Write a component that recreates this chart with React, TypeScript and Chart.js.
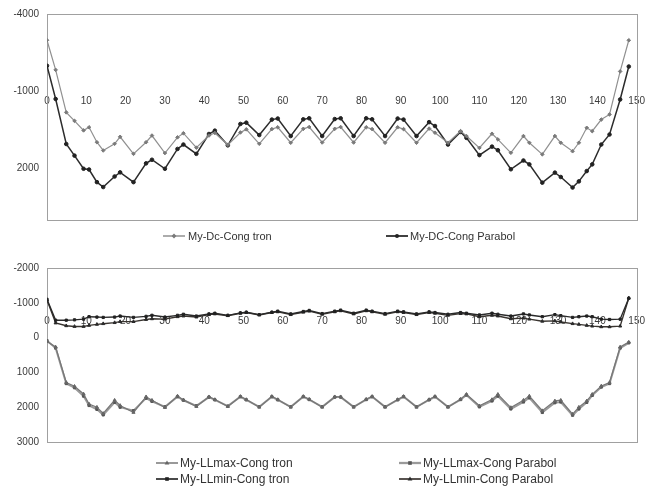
import React, { useEffect, useRef } from "react";
import { Chart, registerables } from "chart.js";

Chart.register(...registerables);

// Station along the arch (m)
const stations = [
  0, 2.2, 4.9, 7, 9.3, 10.7, 12.7, 14.3, 17.2, 18.6,
  22, 25.2, 26.7, 30, 33.2, 34.7, 38, 41.2, 42.7, 46,
  49.2, 50.7, 54, 57.2, 58.7, 62, 65.2, 66.7, 70, 73.2,
  74.7, 78, 81.2, 82.7, 86, 89.2, 90.7, 94, 97.2, 98.7,
  102, 105.2, 106.7, 110, 113.2, 114.7, 118, 121.2, 122.7, 126,
  129.2, 130.7, 133.7, 135.3, 137.3, 138.7, 141, 143.1, 145.8, 148,
];

// Top chart series
const dcCongTron = [
  -2980, -1830, -180, 150, 520, 400, 980, 1300, 1040, 770,
  1430, 980, 720, 1400, 790, 630, 1190, 720, 620, 1080,
  600, 480, 1040, 470, 400, 1000, 460, 390, 990, 460,
  390, 990, 400, 470, 1000, 400, 470, 1000, 450, 610,
  1000, 550, 740, 1200, 650, 870, 1390, 740, 1000, 1450,
  740, 1000, 1330, 1000, 420, 550, 100, -100, -1770, -2980,
];
const dcCongParabol = [
  -1990, -700, 1050, 1500, 2010, 2040, 2530, 2720, 2310, 2150,
  2530, 1800, 1660, 2010, 1240, 1070, 1430, 660, 530, 1100,
  270, 220, 700, 100, 60, 740, 90, 50, 740, 80,
  50, 740, 50, 90, 740, 60, 100, 740, 200, 350,
  1070, 580, 810, 1480, 1150, 1290, 2030, 1690, 1840, 2550,
  2160, 2330, 2740, 2500, 2100, 1840, 1070, 680, -680, -1960,
];

// Bottom chart series
const llmaxCongTron = [
  110, 270, 1290, 1400, 1620, 1910, 2000, 2180, 1800, 1950,
  2150, 1700, 1800, 2010, 1680, 1790, 1980, 1700, 1780, 1980,
  1690, 1780, 2000, 1690, 1780, 2000, 1690, 1770, 2000, 1700,
  1700, 2000, 1770, 1690, 2000, 1780, 1690, 2000, 1780, 1690,
  2000, 1770, 1630, 1960, 1780, 1630, 2010, 1800, 1680, 2100,
  1820, 1800, 2200, 2000, 1820, 1630, 1390, 1290, 270, 130,
];
const llmaxCongParabol = [
  90, 300, 1320, 1440, 1680, 1950, 2060, 2220, 1860, 2000,
  2100, 1740, 1830, 1990, 1700, 1800, 1960, 1710, 1790, 1970,
  1700, 1790, 1990, 1700, 1790, 1990, 1700, 1780, 1990, 1710,
  1710, 1990, 1780, 1700, 1990, 1790, 1700, 1990, 1790, 1700,
  1990, 1780, 1650, 1990, 1820, 1680, 2050, 1850, 1730, 2150,
  1870, 1850, 2230, 2050, 1860, 1660, 1420, 1320, 300, 150,
];
const llminCongTron = [
  -1100, -500, -500, -510, -530, -600, -590, -580, -590, -620,
  -580, -610, -640, -590, -640, -670, -620, -680, -700, -640,
  -710, -730, -660, -730, -760, -680, -750, -780, -690, -760,
  -790, -700, -790, -760, -690, -760, -740, -680, -740, -720,
  -670, -720, -700, -650, -700, -670, -620, -680, -650, -600,
  -660, -630, -580, -600, -620, -600, -530, -520, -530, -1130,
];
const llminCongParabol = [
  -1080, -420, -340, -320, -320, -350, -380, -400, -430, -460,
  -460, -520, -540, -530, -600, -620, -590, -660, -680, -630,
  -700, -720, -650, -720, -740, -660, -730, -760, -670, -740,
  -770, -680, -770, -740, -670, -740, -720, -660, -720, -700,
  -640, -690, -680, -600, -640, -620, -540, -560, -530, -470,
  -480, -450, -400, -380, -350, -330, -310, -310, -330, -1140,
];

const topYTicks = [-4000, -1000, 2000];
const bottomYTicks = [-2000, -1000, 0, 1000, 2000, 3000];

const FONT = '"Liberation Sans", Arial, sans-serif';
Chart.defaults.font.family = FONT;

const framePlugin = {
  id: "frame",
  beforeDatasetsDraw(chart: any) {
    const { ctx, chartArea: a } = chart;
    ctx.save();
    ctx.strokeStyle = "#a0a0a0";
    ctx.lineWidth = 1;
    ctx.strokeRect(Math.round(a.left) + 0.5, Math.round(a.top) + 0.5, Math.round(a.width), Math.round(a.height));
    ctx.restore();
  },
};

type SeriesStyle = {
  label: string;
  values: number[];
  color: string;
  width: number;
  pointStyle: string;
  pointColor: string;
  radius: number;
};

function buildDataset(s: SeriesStyle) {
  return {
    label: s.label,
    data: stations.map((x, i) => ({ x, y: s.values[i] })),
    showLine: true,
    borderColor: s.color,
    backgroundColor: s.pointColor,
    borderWidth: s.width,
    pointStyle: s.pointStyle,
    pointRadius: s.radius,
    pointBorderWidth: 1,
    pointBorderColor: s.pointColor,
    pointBackgroundColor: s.pointColor,
    tension: 0,
  };
}

function makeConfig(series: SeriesStyle[], yMin: number, yMax: number, yTicks: number[], xAxisAt: number, padding: any) {
  return {
    type: "scatter",
    data: { datasets: series.map(buildDataset) },
    options: {
      animation: false,
      responsive: false,
      maintainAspectRatio: false,
      layout: { padding },
      plugins: { legend: { display: false }, tooltip: { enabled: false } },
      scales: {
        x: {
          type: "linear",
          min: 0,
          max: 150,
          position: { y: xAxisAt },
          grid: { display: false, drawTicks: false },
          border: { display: false },
          ticks: {
            stepSize: 10,
            mirror: true,
            padding: 0,
            maxRotation: 0,
            autoSkip: false,
            color: "#3a3a3a",
            font: { size: 10, family: FONT },
          },
        },
        y: {
          type: "linear",
          reverse: true,
          min: yMin,
          max: yMax,
          grid: { display: false, drawTicks: false },
          border: { display: false },
          afterBuildTicks: (scale: any) => {
            scale.ticks = yTicks.map((v) => ({ value: v }));
          },
          afterFit: (scale: any) => {
            scale.width = 47;
          },
          ticks: {
            padding: 8,
            color: "#3a3a3a",
            font: { size: 10, family: FONT },
            callback: (v: any) => String(v),
          },
        },
      },
    },
    plugins: [framePlugin],
  };
}

const topSeries: SeriesStyle[] = [
  { label: "My-Dc-Cong tron", values: dcCongTron, color: "#909090", width: 1.2, pointStyle: "rectRot", pointColor: "#7a7a7a", radius: 1.8 },
  { label: "My-DC-Cong Parabol", values: dcCongParabol, color: "#2c2c2c", width: 1.5, pointStyle: "circle", pointColor: "#222222", radius: 1.8 },
];

const bottomSeries: SeriesStyle[] = [
  { label: "My-LLmax-Cong tron", values: llmaxCongTron, color: "#777777", width: 1.2, pointStyle: "triangle", pointColor: "#666666", radius: 1.8 },
  { label: "My-LLmax-Cong Parabol", values: llmaxCongParabol, color: "#9a9a9a", width: 2, pointStyle: "rect", pointColor: "#555555", radius: 1.6 },
  { label: "My-LLmin-Cong tron", values: llminCongTron, color: "#2a2a2a", width: 1.4, pointStyle: "rect", pointColor: "#222222", radius: 1.6 },
  { label: "My-LLmin-Cong Parabol", values: llminCongParabol, color: "#3a3530", width: 1.4, pointStyle: "triangle", pointColor: "#2a2a2a", radius: 1.8 },
];

function ChartCanvas({ config, width, height }: { config: any; width: number; height: number }) {
  const ref = useRef<HTMLCanvasElement | null>(null);
  useEffect(() => {
    if (!ref.current) return;
    const chart = new Chart(ref.current, config);
    return () => chart.destroy();
  }, []);
  return <canvas ref={ref} width={width} height={height} style={{ width, height, display: "block" }} />;
}

function Marker({ shape, color }: { shape: string; color: string }) {
  if (shape === "circle") return <circle cx={11} cy={5} r={2} fill={color} />;
  if (shape === "rectRot") return <polygon points="11,2.6 13.4,5 11,7.4 8.6,5" fill={color} />;
  if (shape === "triangle") return <polygon points="11,2.4 13.4,6.6 8.6,6.6" fill={color} />;
  return <rect x={9.2} y={3.2} width={3.6} height={3.6} fill={color} />;
}

function LegendItem({ s, left, centerY, textLeft, size }: { s: SeriesStyle; left: number; centerY: number; textLeft: number; size: number }) {
  return (
    <>
      <svg width={22} height={10} style={{ position: "absolute", left, top: centerY - 5 }}>
        <line x1={0} y1={5} x2={22} y2={5} stroke={s.color} strokeWidth={s.width + 0.3} />
        <Marker shape={s.pointStyle} color={s.pointColor} />
      </svg>
      <div
        style={{
          position: "absolute",
          left: textLeft,
          top: centerY - 8,
          height: 16,
          lineHeight: "16px",
          fontFamily: FONT,
          fontSize: size,
          color: "#333",
          whiteSpace: "nowrap",
        }}
      >
        {s.label}
      </div>
    </>
  );
}

export default function App() {
  const topConfig = makeConfig(topSeries, -4000, 4000, topYTicks, -360, { top: 12, bottom: 6, left: 0, right: 0 });
  const bottomConfig = makeConfig(bottomSeries, -2000, 3000, bottomYTicks, -295, { top: 18, bottom: 9, left: 0, right: 0 });
  return (
    <div style={{ position: "absolute", left: 0, top: 0, width: 645, height: 492, background: "#fff", overflow: "hidden" }}>
      <div style={{ position: "absolute", left: 0, top: 0 }}>
        <ChartCanvas config={topConfig} width={645} height={234} />
      </div>
      <div style={{ position: "absolute", left: 0, top: 250 }}>
        <ChartCanvas config={bottomConfig} width={645} height={206} />
      </div>
      <LegendItem s={topSeries[0]} left={163} centerY={236} textLeft={188} size={11} />
      <LegendItem s={topSeries[1]} left={386} centerY={236} textLeft={410} size={11} />
      <LegendItem s={bottomSeries[0]} left={156} centerY={463} textLeft={180} size={12} />
      <LegendItem s={bottomSeries[1]} left={399} centerY={463} textLeft={423} size={12} />
      <LegendItem s={bottomSeries[2]} left={156} centerY={479} textLeft={180} size={12} />
      <LegendItem s={bottomSeries[3]} left={399} centerY={479} textLeft={423} size={12} />
    </div>
  );
}
